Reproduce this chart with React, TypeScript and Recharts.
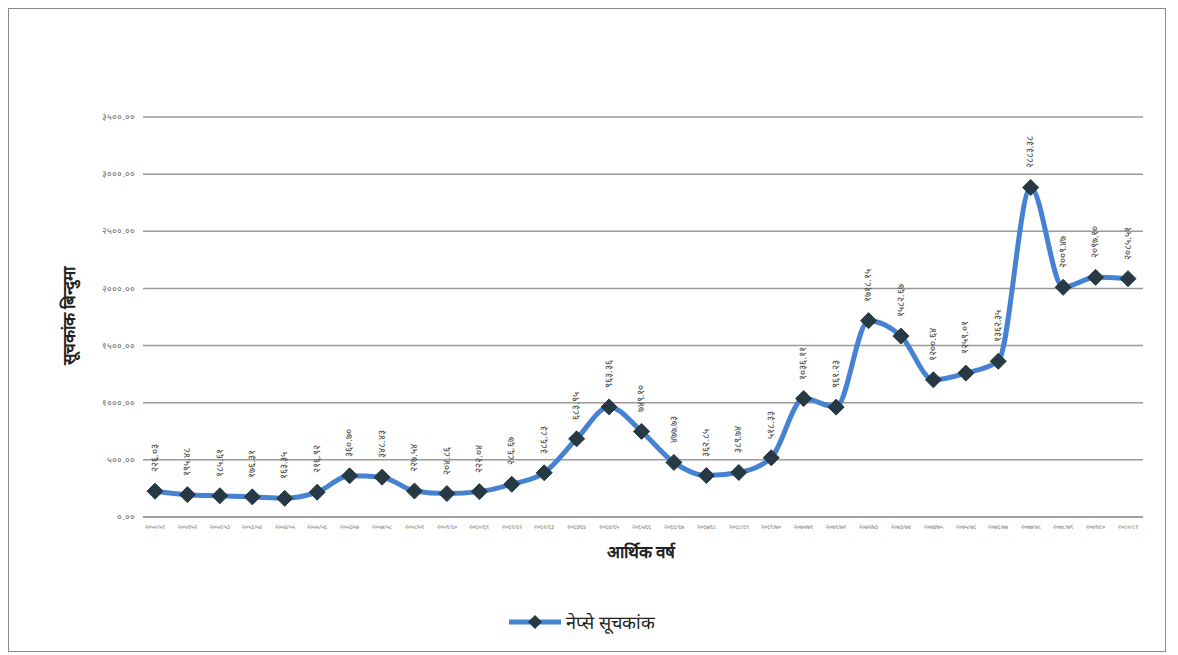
import React from "react";
import { CartesianGrid, LabelList, Line, LineChart, XAxis, YAxis } from "recharts";

const fiscalYears = [
  "2050/51", "2051/52", "2052/53", "2053/54", "2054/55", "2055/56", "2056/57", "2057/58",
  "2058/59", "2059/60", "2060/61", "2061/62", "2062/63", "2063/64", "2064/65", "2065/66",
  "2066/67", "2067/68", "2068/69", "2069/70", "2070/71", "2071/72", "2072/73", "2073/74",
  "2074/75", "2075/76", "2076/77", "2077/78", "2078/79", "2079/80", "2080/81",
];

const nepseIndex = [
  226.03, 195.48, 185.61, 176.31, 163.35, 216.92, 360.7, 348.43,
  227.54, 204.86, 222.04, 286.67, 386.83, 683.95, 963.36, 749.1,
  477.73, 362.85, 389.74, 518.33, 1036.11, 961.23, 1718.15, 1582.67,
  1200.64, 1259.01, 1362.35, 2883.38, 2009.47, 2097.1, 2085.51,
];

const yTicks = [0, 500, 1000, 1500, 2000, 2500, 3000, 3500];

const devDigits = "०१२३४५६७८९";
const toDev = (s: string) => s.replace(/[0-9]/g, (d) => devDigits[Number(d)]);

const rows = fiscalYears.map((year, i) => ({ year, value: nepseIndex[i] }));

const LINE = "#4583d2";
const MARK = "#263944";

function Diamond(props: any) {
  const { cx, cy } = props;
  if (cx == null || cy == null) return null;
  const r = 8;
  return (
    <polygon
      points={`${cx},${cy - r} ${cx + r},${cy} ${cx},${cy + r} ${cx - r},${cy}`}
      fill={MARK}
      stroke={MARK}
      strokeWidth={1}
    />
  );
}

function ValueLabel(props: any) {
  const { x, y, value } = props;
  const ly = y - 19;
  return (
    <text
      x={x}
      y={ly}
      transform={`rotate(-90 ${x} ${ly})`}
      textAnchor="start"
      dominantBaseline="middle"
      fontSize={10}
      fill="#444"
      fontFamily="Liberation Sans, Arial, sans-serif"
    >
      {toDev(Number(value).toFixed(2))}
    </text>
  );
}

export default function App() {
  return (
    <div
      style={{
        position: "relative",
        width: 1156,
        height: 642,
        border: "1px solid #8a8a8a",
        background: "#fff",
        fontFamily: "Liberation Sans, Arial, sans-serif",
      }}
    >
      <LineChart
        width={1156}
        height={642}
        data={rows}
        margin={{ top: 108, right: 22, bottom: 114, left: 64 }}
      >
        <CartesianGrid vertical={false} stroke="#9a9a9a" strokeWidth={1.5} />
        <XAxis
          dataKey="year"
          tickLine={false}
          axisLine={{ stroke: "#9a9a9a", strokeWidth: 1.5 }}
          interval={0}
          height={20}
          padding={{ left: 12, right: 15 }}
          tick={{ fontSize: 6, fill: "#777" }}
          tickFormatter={(v) => toDev(v)}
          tickMargin={2}
        />
        <YAxis
          width={70}
          domain={[0, 3500]}
          ticks={yTicks}
          tickLine={false}
          axisLine={false}
          tick={{ fontSize: 9, fill: "#666" }}
          tickFormatter={(v) => toDev(Number(v).toFixed(2))}
        />
        <Line
          type="monotone"
          dataKey="value"
          stroke={LINE}
          strokeWidth={5}
          dot={<Diamond />}
          activeDot={false}
          isAnimationActive={false}
        >
          <LabelList dataKey="value" content={<ValueLabel />} />
        </Line>
      </LineChart>

      <div
        style={{
          position: "absolute",
          left: 59,
          top: 307,
          transform: "translate(-50%, -50%) rotate(-90deg)",
          whiteSpace: "nowrap",
          fontWeight: "bold",
          fontSize: 17,
          color: "#222",
        }}
      >
        सूचकांक बिन्दुमा
      </div>

      <div
        style={{
          position: "absolute",
          left: 632,
          top: 542,
          transform: "translate(-50%, -50%)",
          whiteSpace: "nowrap",
          fontWeight: "bold",
          fontSize: 17,
          color: "#222",
        }}
      >
        आर्थिक वर्ष
      </div>

      <div
        style={{
          position: "absolute",
          left: 498,
          top: 601,
          display: "flex",
          alignItems: "center",
          whiteSpace: "nowrap",
          fontSize: 18,
          color: "#222",
        }}
      >
        <svg width={56} height={20}>
          <line x1={2} y1={10} x2={54} y2={10} stroke={LINE} strokeWidth={5} />
          <polygon points="28,3 35,10 28,17 21,10" fill={MARK} />
        </svg>
        <span style={{ marginLeft: 3 }}>नेप्से सूचकांक</span>
      </div>
    </div>
  );
}
